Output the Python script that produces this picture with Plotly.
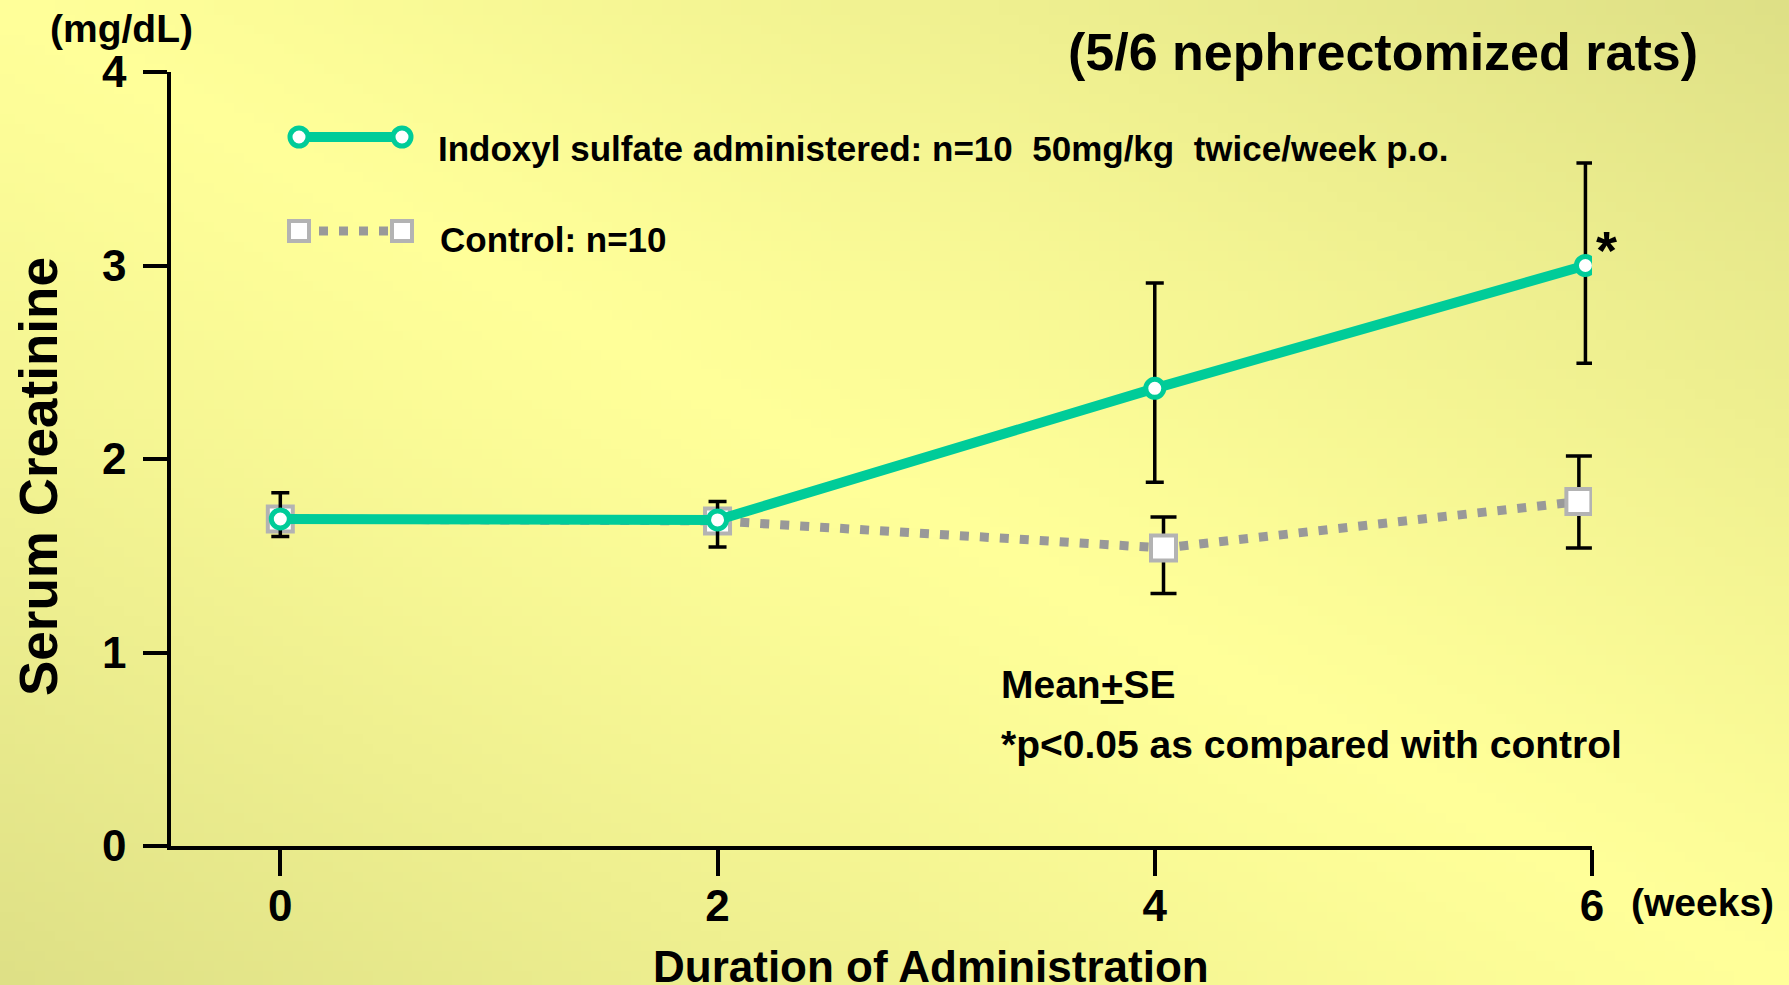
import zlib, struct, base64
import plotly.graph_objects as go

# ---------------- data ----------------
weeks_ticks = [0, 2, 4, 6]
ind_x = [0, 2, 4, 5.97]
ind_y = [1.69, 1.685, 2.365, 3.0]
ind_err_plus = [0.135, 0.095, 0.545, 0.53]
ind_err_minus = [0.09, 0.14, 0.485, 0.505]

ctl_x = [0, 2, 4.04, 5.94]
ctl_y = [1.69, 1.68, 1.54, 1.78]
ctl_err_plus = [0, 0, 0.16, 0.235]
ctl_err_minus = [0, 0, 0.235, 0.24]

y_ticks = [0, 1, 2, 3, 4]

ind_label = "Indoxyl sulfate administered: n=10  50mg/kg  twice/week p.o."
ctl_label = "Control: n=10"

# ---------------- style ----------------
W, H = 1789, 985             # browser window
L, R, T, B = 171, 197, 72, 139   # plot area in window pixels
PW, PH = W - L - R, H - T - B
FONT = "Liberation Sans, Arial, sans-serif"
GREEN = "#00CC99"
GRAY = "#999999"
GRAY_MK = "#B3B3B3"


def px(x):
    return (x - L) / PW


def py(y):
    return (H - B - y) / PH


# gradient background as a small PNG
def make_png(w, h):
    light = (255, 255, 153)
    dark = (222, 224, 134)
    rows = b""
    for j in range(h):
        row = b"\x00"
        v = j / (h - 1)
        for i in range(w):
            u = i / (w - 1)
            t = min(1.0, abs(u - v))
            f = t ** 1.2
            c = [int(round(light[k] + (dark[k] - light[k]) * f)) for k in range(3)]
            row += bytes(c)
        rows += row

    def chunk(tag, data):
        c = struct.pack(">I", len(data)) + tag + data
        return c + struct.pack(">I", zlib.crc32(tag + data) & 0xFFFFFFFF)

    png = b"\x89PNG\r\n\x1a\n"
    png += chunk(b"IHDR", struct.pack(">IIBBBBB", w, h, 8, 2, 0, 0, 0))
    png += chunk(b"IDAT", zlib.compress(rows, 9))
    png += chunk(b"IEND", b"")
    return "data:image/png;base64," + base64.b64encode(png).decode()


bg = make_png(180, 100)

fig = go.Figure()

fig.add_trace(go.Scatter(
    x=ctl_x, y=ctl_y, mode="lines+markers", name=ctl_label,
    line=dict(color=GRAY, width=9, dash="9px,11px"),
    marker=dict(symbol="square", size=25, color="white",
                line=dict(color=GRAY_MK, width=4)),
    error_y=dict(type="data", symmetric=False, array=ctl_err_plus,
                 arrayminus=ctl_err_minus, color="black", thickness=3.5, width=13),
    showlegend=False,
))

fig.add_trace(go.Scatter(
    x=ind_x, y=ind_y, mode="lines+markers", name=ind_label,
    line=dict(color=GREEN, width=10),
    marker=dict(symbol="circle", size=18, color="white",
                line=dict(color=GREEN, width=5)),
    error_y=dict(type="data", symmetric=False, array=ind_err_plus,
                 arrayminus=ind_err_minus, color="black", thickness=3.5, width=9),
    showlegend=False,
))

# legend keys drawn as shapes
lx0, lx1 = px(299), px(402)
ly1, ly2 = py(137), py(231)
shapes = [
    dict(type="line", xref="paper", yref="paper", x0=lx0, x1=lx1, y0=ly1, y1=ly1,
         line=dict(color=GREEN, width=10)),
    dict(type="line", xref="paper", yref="paper", x0=lx0, x1=lx1, y0=ly2, y1=ly2,
         line=dict(color=GRAY, width=9, dash="9px,11px")),
]
for xx in (lx0, lx1):
    shapes.append(dict(type="circle", xref="paper", yref="paper",
                       xsizemode="pixel", ysizemode="pixel", xanchor=xx, yanchor=ly1,
                       x0=-9, x1=9, y0=-9, y1=9, fillcolor="white",
                       line=dict(color=GREEN, width=5)))
    shapes.append(dict(type="rect", xref="paper", yref="paper",
                       xsizemode="pixel", ysizemode="pixel", xanchor=xx, yanchor=ly2,
                       x0=-10, x1=10, y0=-10, y1=10, fillcolor="white",
                       line=dict(color=GRAY_MK, width=4)))


def ann(text, x, y, size, xanchor="center", yanchor="middle", angle=0):
    return dict(text=text, x=px(x), y=py(y), xref="paper", yref="paper",
                xanchor=xanchor, yanchor=yanchor, showarrow=False, textangle=angle,
                font=dict(family=FONT, size=size, color="black", weight="bold"))


annotations = [
    ann("(mg/dL)", 121, 29, 39),
    ann("(5/6 nephrectomized rats)", 1383, 52, 52),
    ann(ind_label, 436, 148, 35, xanchor="left"),
    ann(ctl_label, 438, 239, 35, xanchor="left"),
    ann("Mean<span style='text-decoration:underline'>+</span>SE", 999, 684, 39, xanchor="left"),
    ann("*p<0.05 as compared with control", 999, 744, 39, xanchor="left"),
    ann("*", 1606, 250, 54),
    ann("(weeks)", 1702, 902, 39),
    ann("Duration of Administration", 931, 966, 44),
    ann("Serum Creatinine", 38, 477, 53, angle=-90),
]

fig.update_layout(
    width=W, height=H, autosize=False,
    margin=dict(l=L, r=R, t=T, b=B, pad=0),
    paper_bgcolor="#FFFF99", plot_bgcolor="rgba(0,0,0,0)",
    images=[dict(source=bg, xref="paper", yref="paper",
                 x=-L / PW, y=1 + T / PH, sizex=W / PW, sizey=H / PH,
                 xanchor="left", yanchor="top", sizing="stretch", layer="below")],
    shapes=shapes,
    annotations=annotations,
    xaxis=dict(range=[-0.5, 6], showgrid=False, zeroline=False, showline=True,
               linecolor="black", linewidth=3.5, ticks="outside", ticklen=26,
               tickwidth=3.5, tickcolor="black", tickvals=weeks_ticks,
               ticktext=[str(v) for v in weeks_ticks], ticklabelstandoff=-8,
               tickfont=dict(family=FONT, size=44, color="black", weight="bold")),
    yaxis=dict(range=[0, 4], showgrid=False, zeroline=False, showline=True,
               linecolor="black", linewidth=3.5, ticks="outside", ticklen=24,
               tickwidth=3.5, tickcolor="black", tickvals=y_ticks,
               ticklabelstandoff=8,
               tickfont=dict(family=FONT, size=44, color="black", weight="bold")),
)

fig.write_html(
    "out.html",
    config={"displayModeBar": False},
    post_script="document.body.style.margin='0';document.body.style.overflow='hidden';",
)
